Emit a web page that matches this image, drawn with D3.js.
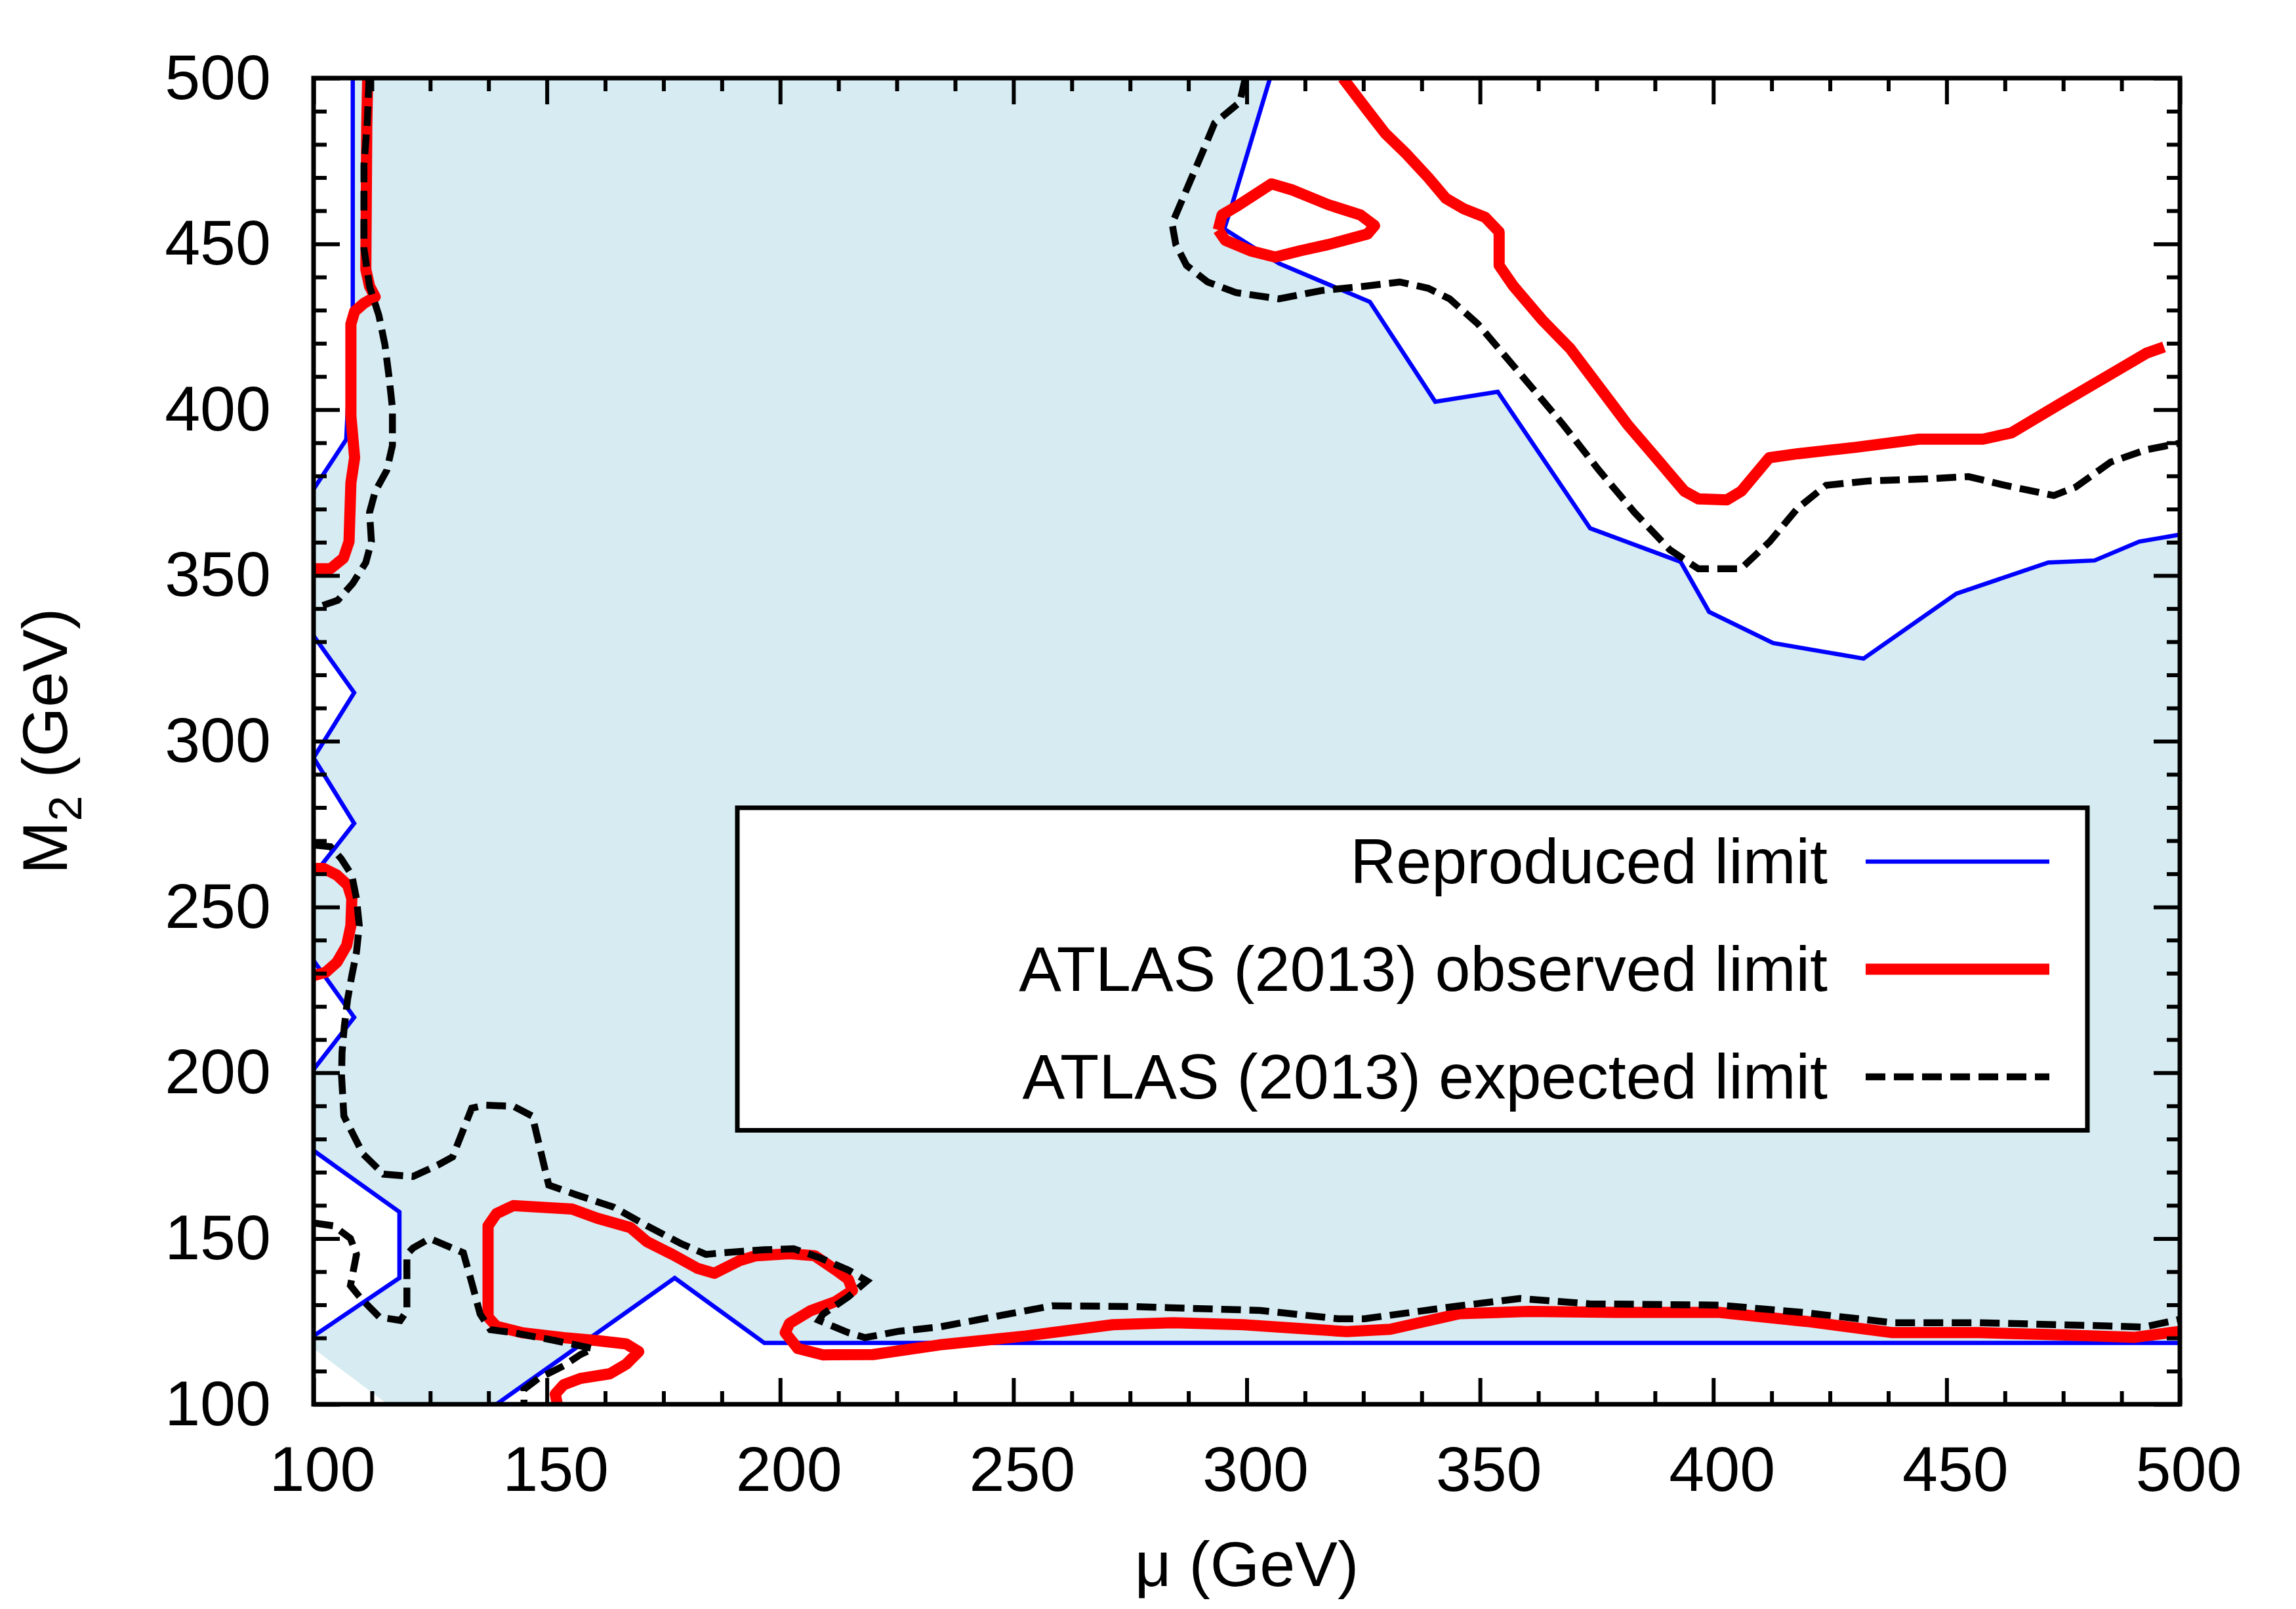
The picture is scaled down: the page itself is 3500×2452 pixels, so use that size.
<!DOCTYPE html>
<html>
<head>
<meta charset="utf-8">
<script src="https://cdn.jsdelivr.net/npm/d3@7"></script>
<style>
  body { margin: 0; background: #fff; }
  text { font-family: "Liberation Sans", Arial, sans-serif; }
</style>
</head>
<body>
<div id="chart"></div>
<script>
// ---- data (mu, M2) in GeV ----
const xTicks = [100, 150, 200, 250, 300, 350, 400, 450, 500];
const yTicks = [100, 150, 200, 250, 300, 350, 400, 450, 500];

// reproduced limit (blue), several pieces
const reproducedTopLeft = [[108.4,500],[108.4,431],[107,391],[100,376]];
const reproducedLeftZig1 = [[100,331.8],[108.7,314.6],[100,295],[108.7,275.2],[100,259.6]];
const reproducedLeftZig2 = [[100,233.8],[108.7,216.7],[100,201]];
const reproducedBottomLeft = [[100,176.5],[118.4,158],[118.4,138.1],[100,120.6]];
const reproducedBottom = [[139.2,100],[177.4,138.1],[196.6,118.5],[500,118.5]];
const reproducedUpperRight = [[305,500],[297,462.5],[295.2,454.5],[306.9,444.1],[326.4,432.5],[340.4,402.4],
  [353.8,405.4],[373.6,364.2],[393,354.1],[399.1,339],[412.8,329.6],[432.2,324.9],[452.1,344.5],
  [471.8,353.9],[481.7,354.5],[491.3,360.2],[500,362.3]];

// shaded (excluded) region outline
const shadedRegion = [[108.4,500],[108.4,431],[107,391],[100,376],[100,331.8],[108.7,314.6],[100,295],
  [108.7,275.2],[100,259.6],[100,233.8],[108.7,216.7],[100,201],[100,176.5],[118.4,158],[118.4,138.1],
  [100,120.6],[100,116.8],[115.9,100],[139.2,100],[177.4,138.1],[196.6,118.5],[500,118.5],[500,362.3],
  [491.3,360.2],[481.7,354.5],[471.8,353.9],[452.1,344.5],[432.2,324.9],[412.8,329.6],[399.1,339],
  [393,354.1],[373.6,364.2],[353.8,405.4],[340.4,402.4],[326.4,432.5],[306.9,444.1],[295.2,454.5],
  [297,462.5],[305,500]];

// ATLAS observed (red)
const observedTopLeft = [[111.6,500],[111.4,485.2],[111.2,442.3],[112,437.2],[113.2,434],[110.8,432.1],
  [108.8,429.6],[108,425.8],[108,398.1],[108.8,385.5],[108,377.9],[107.6,360.2],[106.4,355.2],
  [103.6,352],[100,352]];
const observedLeftLoop = [[100,261.6],[102.2,261.6],[105,259.6],[107.3,256.6],[108.2,252.5],[108,244.4],
  [107.1,238.4],[105,233.3],[102.6,230.3],[100,229.3]];
const observedBottom = [[152.6,98],[152.2,100.3],[151.8,103.1],[153.6,105.9],[157.2,107.8],[163.5,109.2],
  [167,112.1],[169.7,115.9],[167,118.2],[160.8,119.2],[153.6,120.1],[144.6,121.6],[139.2,123.5],
  [137.4,126.3],[137.4,153.8],[139.2,157.5],[142.8,159.9],[155.4,158.9],[160.8,156.1],[167.9,153.3],
  [171.5,149],[176.9,145.2],[182.3,141],[185.9,139.5],[191.3,143.3],[194.8,144.8],[202,145.4],
  [207.4,144.8],[211.9,140.5],[214.6,137.7],[215.5,134.3],[211.9,131],[206.5,128.2],[202,124.4],
  [201.1,121.6],[203.8,116.8],[209.2,114.9],[219.9,115],[234.1,117.9],[252.7,120.6],[271.3,124],
  [284.3,124.6],[299.2,124],[321.4,121.9],[330.7,122.6],[345.6,127.3],[360.4,128],[379,127.7],
  [401.3,127.7],[419.9,125],[438.4,121.6],[457,121.6],[475.6,120.9],[490.4,120.2],[500,122]];
const observedUpperRightLoop = [[293.9,454.2],[294.7,458.7],[297.7,461.2],[305.3,468.1],[309.9,466.2],
  [317.5,461.8],[324.4,458.7],[327.4,455.5],[325.9,453],[317.5,449.8],[311.4,447.9],[306.1,446],
  [300.8,447.9],[295.4,451.1],[293.9,454.2]];
const observedUpperRight = [[320.6,500],[325.9,490.2],[329.7,483.3],[334.3,477],[338.9,470],[342.7,463.7],
  [346.5,460.6],[351.1,458],[354.1,453.6],[354.1,443.5],[357.2,437.2],[363.3,427.1],[369.4,418.3],
  [375.5,406.9],[381.6,395.5],[387.7,385.5],[393.8,375.4],[396.8,373.1],[402.9,372.8],[406,375.4],
  [412,385.5],[418.1,386.7],[430.3,388.6],[444.1,391.1],[457.8,391.1],[463.9,393],[474.5,401.9],
  [485.2,410.7],[492.8,417],[496.6,418.9]];

// ATLAS expected (black dashed)
const expectedTopLeft = [[111.9,500],[111.5,486.4],[110.8,473.8],[110.8,448.6],[112,437.2],[114,428.4],
  [115.3,419.5],[116.1,410.7],[116.9,400.6],[116.9,389.2],[115.7,381.7],[113.2,375.3],[112,369],
  [112.4,360.2],[111.2,353.9],[108.4,347.6],[105.2,342.5],[100,340]];
const expectedLong = [[100,268.7],[103.6,268.2],[105.9,264.6],[108.2,259.6],[109.2,252.5],[109.8,244.4],
  [109.2,236.4],[108.2,229.3],[107.3,222.2],[106.6,214.1],[106.1,206.1],[106,199],[106.5,186.9],
  [110.6,175.5],[115,169.4],[121.3,168.7],[126.7,172.2],[129.8,174.6],[133.9,189.3],[136.6,190.2],
  [142.8,189.9],[146.9,186.9],[150.4,166.1],[156.3,163.2],[164.4,159.4],[171.5,153.8],[178.7,148.5],
  [184.1,145.2],[187.7,145.7],[196.6,146.6],[202.9,146.9],[208.3,144.3],[214.6,140.5],[218.6,137.2],
  [214.6,132.4],[209.2,127.2],[208.3,125.3],[214.6,121.6],[218.2,120.1],[225.3,122],[234.1,123.3],
  [258.3,129.7],[275,129.5],[302.9,128.3],[319.6,125.8],[325.2,125.8],[345.6,129.7],[358.6,131.9],
  [373.5,130.3],[401.3,129.9],[419.9,127.6],[438.4,124.6],[457,124.6],[484.9,123.6],[492.3,123.3],
  [500,125.6]];
const expectedBottomLeft = [[100,154.7],[104.3,153.8],[107.9,150],[109.2,145.2],[107.9,135.8],[110.1,132],
  [114.1,126.3],[118.6,125.3],[120,128.2],[120,145.2],[121.3,147.1],[124.9,150],[132.1,145.7],
  [133.9,136.7],[135.7,127.2],[137.9,122.5],[142.8,121.6],[151.8,119.2],[159.9,116.8],[157.2,115],
  [153.6,111.6],[148.2,107.8],[145.1,104.5],[145.1,101.2],[145.1,98]];
const expectedUpperRight = [[299.7,500],[298.5,492.7],[293.1,486.4],[290.9,478.9],[288.6,471.3],
  [286.3,463.7],[284,456.1],[284.8,449.8],[287.1,443.5],[291.6,438.5],[297.7,435.3],[306.9,433.4],
  [316,435.9],[325.2,437.2],[332.8,438.5],[338.9,436.6],[343.5,433.4],[349.5,425.9],[354.1,418.3],
  [360.2,408.2],[367.8,395.5],[375.5,381.7],[383.1,369],[390.7,357.7],[396.8,352],[405.9,352],
  [412.1,360.2],[418.1,370.3],[424.2,377.2],[433.4,378.5],[445.6,379.1],[454.7,379.8],[462.4,377.2],
  [473,374.1],[477.6,376.6],[485.2,384.2],[492.8,387.9],[500,389.9]];

const legendLabels = ["Reproduced limit", "ATLAS (2013) observed limit", "ATLAS (2013) expected limit"];

// ---- layout ----
const W = 3500, H = 2452;
const margin = { top: 119, right: 177, bottom: 312, left: 478 };
const width = W - margin.left - margin.right;
const height = H - margin.top - margin.bottom;
const fontSize = 97;

const svg = d3.select("#chart").append("svg")
    .attr("width", W)
    .attr("height", H)
    .style("background", "#fff");

const g = svg.append("g")
    .attr("transform", `translate(${margin.left},${margin.top})`);

const x = d3.scaleLinear().domain([100, 500]).range([0, width]);
const y = d3.scaleLinear().domain([100, 500]).range([height, 0]);

g.append("clipPath").attr("id", "plot-clip")
  .append("rect").attr("width", width).attr("height", height);

const plot = g.append("g").attr("clip-path", "url(#plot-clip)");
const line = d3.line().x(d => x(d[0])).y(d => y(d[1]));

// shaded region
plot.append("path")
    .attr("d", line(shadedRegion) + "Z")
    .attr("fill", "#d6ebf2");

// reproduced limit
[reproducedTopLeft, reproducedLeftZig1, reproducedLeftZig2, reproducedBottomLeft,
 reproducedBottom, reproducedUpperRight].forEach(seg => {
  plot.append("path").attr("d", line(seg))
      .attr("fill", "none").attr("stroke", "#0000ff")
      .attr("stroke-width", 6.5).attr("stroke-linejoin", "miter");
});

// observed limit
[observedTopLeft, observedLeftLoop, observedBottom, observedUpperRightLoop, observedUpperRight].forEach(seg => {
  plot.append("path").attr("d", line(seg))
      .attr("fill", "none").attr("stroke", "#ff0000")
      .attr("stroke-width", 17).attr("stroke-linejoin", "round");
});

// expected limit
[expectedTopLeft, expectedLong, expectedBottomLeft, expectedUpperRight].forEach(seg => {
  plot.append("path").attr("d", line(seg))
      .attr("fill", "none").attr("stroke", "#000")
      .attr("stroke-width", 10.5).attr("stroke-dasharray", "30,13");
});

// ---- axes, ticks inward on all four sides ----
const xMinor = d3.range(100, 500.1, 12.5).filter(v => v % 50 !== 0);
const yMinor = d3.range(100, 500.1, 10).filter(v => v % 50 !== 0);

function styleAxis(sel) {
  sel.select(".domain").remove();
  sel.selectAll("line").attr("stroke", "#000").attr("stroke-width", 6);
  sel.selectAll("text").style("font-size", fontSize + "px")
     .style("font-family", "'Liberation Sans', Arial, sans-serif").attr("fill", "#000");
}

g.append("g").attr("transform", `translate(0,${height})`)
  .call(d3.axisBottom(x).tickValues(xTicks).tickSize(-40).tickPadding(63))
  .call(styleAxis)
  .call(a => a.selectAll("text").attr("x", 13));
g.append("g").attr("transform", `translate(0,${height})`)
  .call(d3.axisBottom(x).tickValues(xMinor).tickSize(-20).tickFormat(""))
  .call(styleAxis);
g.append("g")
  .call(d3.axisTop(x).tickValues(xTicks).tickSize(-40).tickFormat(""))
  .call(styleAxis);
g.append("g")
  .call(d3.axisTop(x).tickValues(xMinor).tickSize(-20).tickFormat(""))
  .call(styleAxis);

g.append("g")
  .call(d3.axisLeft(y).tickValues(yTicks).tickSize(-40).tickPadding(65))
  .call(styleAxis);
g.append("g")
  .call(d3.axisLeft(y).tickValues(yMinor).tickSize(-20).tickFormat(""))
  .call(styleAxis);
g.append("g").attr("transform", `translate(${width},0)`)
  .call(d3.axisRight(y).tickValues(yTicks).tickSize(-40).tickFormat(""))
  .call(styleAxis);
g.append("g").attr("transform", `translate(${width},0)`)
  .call(d3.axisRight(y).tickValues(yMinor).tickSize(-20).tickFormat(""))
  .call(styleAxis);

// frame
g.append("rect")
    .attr("width", width).attr("height", height)
    .attr("fill", "none").attr("stroke", "#000").attr("stroke-width", 7);

// axis titles
g.append("text")
    .attr("x", width / 2)
    .attr("y", 2417 - margin.top)
    .attr("text-anchor", "middle")
    .style("font-size", fontSize + "px")
    .text("\u03bc (GeV)");

const yTitle = g.append("text")
    .attr("transform", `translate(${102 - margin.left},${height / 2}) rotate(-90)`)
    .attr("text-anchor", "middle")
    .style("font-size", fontSize + "px");
yTitle.append("tspan").text("M");
yTitle.append("tspan").attr("dy", 22).style("font-size", "70px").text("2");
yTitle.append("tspan").attr("dy", -22).text(" (GeV)");

// ---- legend ----
const legend = g.append("g")
    .attr("transform", `translate(${1124 - margin.left},${1231 - margin.top})`);

legend.append("rect")
    .attr("width", 2058).attr("height", 491.5)
    .attr("fill", "#fff").attr("stroke", "#000").attr("stroke-width", 7);

const legendStyles = [
  { stroke: "#0000ff", width: 6.5, dash: null },
  { stroke: "#ff0000", width: 17, dash: null },
  { stroke: "#000", width: 10.5, dash: "30,13" }
];

const items = legend.selectAll(".legend-item")
    .data(legendLabels)
    .enter().append("g")
    .attr("class", "legend-item")
    .attr("transform", (d, i) => `translate(0,${82 + i * 164})`);

items.append("text")
    .attr("x", 1662)
    .attr("y", 33)
    .attr("text-anchor", "end")
    .style("font-size", fontSize + "px")
    .text(d => d);

items.append("line")
    .attr("x1", 1720).attr("x2", 2000)
    .attr("y1", 0).attr("y2", 0)
    .attr("stroke", (d, i) => legendStyles[i].stroke)
    .attr("stroke-width", (d, i) => legendStyles[i].width)
    .attr("stroke-dasharray", (d, i) => legendStyles[i].dash);
</script>
</body>
</html>
